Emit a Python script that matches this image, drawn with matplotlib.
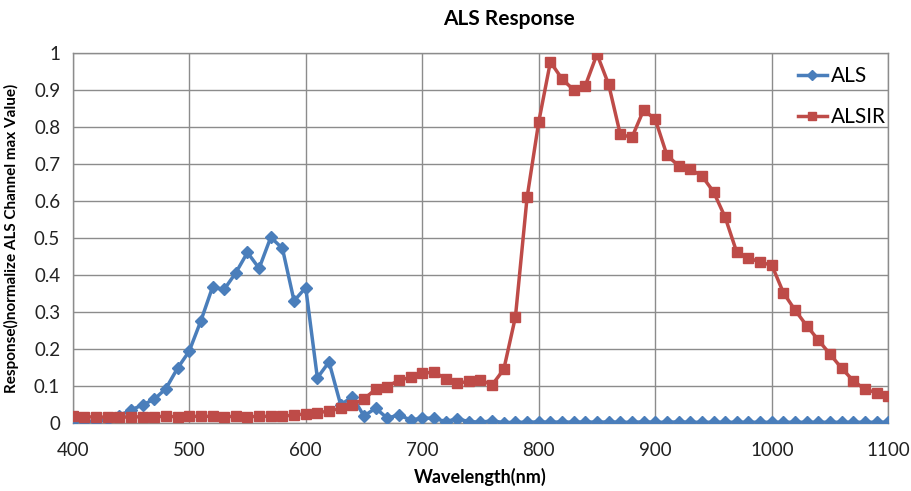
import numpy as np
import matplotlib
matplotlib.use("Agg")
import matplotlib.pyplot as plt

plt.rcParams['font.family'] = ['Lato', 'DejaVu Sans']

# wavelengths, every 10 nm from 400 to 1100
wavelength = list(range(400, 1101, 10))

als = [0.005, 0.005, 0.005, 0.01, 0.02, 0.035, 0.049, 0.064, 0.093, 0.148,
       0.194, 0.276, 0.367, 0.361, 0.406, 0.461, 0.418, 0.502, 0.472, 0.33,
       0.366, 0.122, 0.165, 0.049, 0.071, 0.019, 0.04, 0.013, 0.022, 0.008,
       0.013, 0.013, 0.004, 0.011, 0.004, 0.002, 0.006, 0.001, 0.002, 0.002,
       0.003, 0.002, 0.003, 0.002, 0.003, 0.002, 0.003, 0.002, 0.002, 0.003,
       0.002, 0.002, 0.003, 0.002, 0.002, 0.002, 0.002, 0.002, 0.002, 0.002,
       0.002, 0.002, 0.002, 0.002, 0.002, 0.002, 0.002, 0.002, 0.002, 0.002,
       0.002]

alsir = [0.02, 0.017, 0.016, 0.016, 0.016, 0.016, 0.017, 0.017, 0.018, 0.017,
         0.018, 0.018, 0.018, 0.017, 0.018, 0.017, 0.018, 0.018, 0.019, 0.021,
         0.025, 0.028, 0.032, 0.04, 0.049, 0.065, 0.091, 0.098, 0.116, 0.123,
         0.134, 0.138, 0.12, 0.107, 0.113, 0.116, 0.103, 0.145, 0.287, 0.61,
         0.814, 0.976, 0.93, 0.9, 0.912, 0.997, 0.915, 0.78, 0.772, 0.846,
         0.821, 0.724, 0.695, 0.686, 0.668, 0.625, 0.556, 0.461, 0.447, 0.434,
         0.427, 0.352, 0.305, 0.263, 0.224, 0.186, 0.148, 0.114, 0.091, 0.082,
         0.073]

xticks = list(range(400, 1101, 100))
yticks = [0, 0.1, 0.2, 0.3, 0.4, 0.5, 0.6, 0.7, 0.8, 0.9, 1]
ytick_labels = ['0', '0.1', '0.2', '0.3', '0.4', '0.5', '0.6', '0.7', '0.8', '0.9', '1']

fig = plt.figure(figsize=(9.12, 4.91), dpi=100)
ax = fig.add_axes([0.0797, 0.1385, 0.8943, 0.7535])

ax.plot(wavelength, als, color='#4A7EBB', lw=2.5, marker='D', ms=6,
        label='ALS', zorder=3)
ax.plot(wavelength, alsir, color='#BE4B48', lw=2.5, marker='s', ms=7.5,
        label='ALSIR', zorder=3)

ax.set_xlim(400, 1100)
ax.set_ylim(0, 1)
ax.set_xticks(xticks)
ax.set_yticks(yticks)
ax.set_yticklabels(ytick_labels)
ax.tick_params(length=0, labelsize=13.5, colors='#222222')
ax.tick_params(axis='x', pad=14)
ax.tick_params(axis='y', pad=9)
ax.grid(True, color='#8c8c8c', lw=1)
ax.set_axisbelow(True)
for s in ax.spines.values():
    s.set_color('#8c8c8c')
    s.set_linewidth(1)

ax.set_xlabel('Wavelength(nm)', fontsize=13, fontweight='bold', labelpad=6)
ax.set_ylabel('Response()normalize ALS Channel max Value)', fontsize=11,
              fontweight='bold')
ax.yaxis.set_label_coords(-0.066, 0.5)

fig.text(0.558, 0.962, 'ALS Response', ha='center', va='center',
         fontsize=15, fontweight='bold')

leg = ax.legend(loc='upper right', bbox_to_anchor=(1.02, 1.015), frameon=False,
                fontsize=15, handlelength=1.4, labelspacing=1.0, handletextpad=0.2,
                markerscale=0.8)

fig.savefig('out.png', dpi=100)
